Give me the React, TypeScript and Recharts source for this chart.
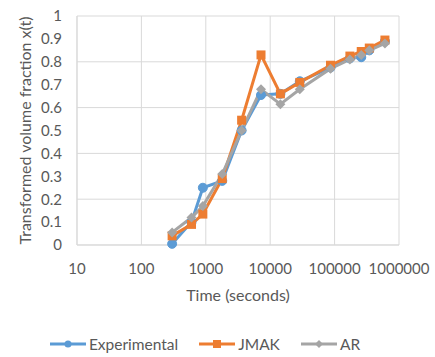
import React from 'react';
import { LineChart, Line, XAxis, YAxis, CartesianGrid, Legend } from 'recharts';

const times = [300, 600, 900, 1800, 3600, 7200, 14400, 28800, 86400, 172800, 259200, 345600, 604800];
const experimental = [0.005, 0.1, 0.25, 0.28, 0.5, 0.655, 0.66, 0.715, 0.775, 0.815, 0.82, 0.85, 0.89];
const jmak = [0.04, 0.09, 0.135, 0.29, 0.545, 0.83, 0.66, 0.71, 0.785, 0.825, 0.845, 0.86, 0.895];
const ar = [0.055, 0.12, 0.17, 0.31, 0.5, 0.68, 0.615, 0.68, 0.77, 0.81, 0.83, 0.85, 0.88];
const xTicks = [10, 100, 1000, 10000, 100000, 1000000];
const yTicks = [0, 0.1, 0.2, 0.3, 0.4, 0.5, 0.6, 0.7, 0.8, 0.9, 1];

const data = times.map((t, i) => ({ t, exp: experimental[i], jmak: jmak[i], ar: ar[i] }));

const BLUE = '#5B9BD5';
const ORANGE = '#ED7D31';
const GRAY = '#A5A5A5';
const FONT = 'Lato, "Open Sans", sans-serif';
const TEXT = '#595959';

const CircleDot = (p: any) => (p.cx == null ? null : <circle cx={p.cx} cy={p.cy} r={4.5} fill={BLUE} stroke={BLUE} />);
const SquareDot = (p: any) => (p.cx == null ? null : <rect x={p.cx - 4.5} y={p.cy - 4.5} width={9} height={9} fill={ORANGE} />);
const DiamondDot = (p: any) =>
  p.cx == null ? null : (
    <polygon points={`${p.cx},${p.cy - 5} ${p.cx + 5},${p.cy} ${p.cx},${p.cy + 5} ${p.cx - 5},${p.cy}`} fill={GRAY} />
  );

const legendItems = [
  { name: 'Experimental', color: BLUE, shape: 'circle' },
  { name: 'JMAK', color: ORANGE, shape: 'square' },
  { name: 'AR', color: GRAY, shape: 'diamond' },
];

const LegendContent = () => (
  <div style={{ display: 'flex', justifyContent: 'center', alignItems: 'center', fontFamily: FONT, fontSize: 15.5, color: TEXT, paddingLeft: 10 }}>
    {legendItems.map((it) => (
      <div key={it.name} style={{ display: 'flex', alignItems: 'center', margin: '0 10px' }}>
        <svg width={38} height={12} style={{ marginRight: 2 }}>
          <line x1={1} y1={6} x2={37} y2={6} stroke={it.color} strokeWidth={3} />
          {it.shape === 'circle' && <circle cx={19} cy={6} r={3.5} fill={it.color} />}
          {it.shape === 'square' && <rect x={15} y={2} width={8} height={8} fill={it.color} />}
          {it.shape === 'diamond' && <polygon points="19,2 23,6 19,10 15,6" fill={it.color} />}
        </svg>
        <span>{it.name}</span>
      </div>
    ))}
  </div>
);

export default function App() {
  return (
    <div style={{ position: 'absolute', left: 0, top: 0, width: 435, height: 357, background: '#fff' }}>
      <LineChart width={435} height={357} data={data} margin={{ top: 16, right: 36, left: 0, bottom: 4 }}>
        <CartesianGrid stroke="#D9D9D9" strokeWidth={1} />
        <XAxis
          dataKey="t"
          type="number"
          scale="log"
          domain={[10, 1000000]}
          ticks={xTicks}
          allowDataOverflow
          height={90}
          tickSize={0}
          tickMargin={18}
          axisLine={{ stroke: '#D9D9D9' }}
          tick={{ fill: TEXT, fontSize: 15, fontFamily: FONT }}
          label={{ value: 'Time (seconds)', position: 'insideTop', offset: 45, fill: TEXT, fontSize: 16, fontFamily: FONT }}
        />
        <YAxis
          type="number"
          domain={[0, 1]}
          ticks={yTicks}
          width={77}
          tickSize={0}
          tickMargin={15}
          axisLine={{ stroke: '#D9D9D9' }}
          tick={{ fill: TEXT, fontSize: 15, fontFamily: FONT }}
          label={{ value: 'Transformed volume fraction x(t)', angle: -90, position: 'insideLeft', offset: 25, fill: TEXT, fontSize: 16, fontFamily: FONT, style: { textAnchor: 'middle' } }}
        />
        <Legend verticalAlign="bottom" content={<LegendContent />} />
        <Line dataKey="exp" name="Experimental" stroke={BLUE} strokeWidth={3} dot={<CircleDot />} activeDot={false} isAnimationActive={false} />
        <Line dataKey="jmak" name="JMAK" stroke={ORANGE} strokeWidth={3} dot={<SquareDot />} activeDot={false} isAnimationActive={false} />
        <Line dataKey="ar" name="AR" stroke={GRAY} strokeWidth={3} dot={<DiamondDot />} activeDot={false} isAnimationActive={false} />
      </LineChart>
    </div>
  );
}
